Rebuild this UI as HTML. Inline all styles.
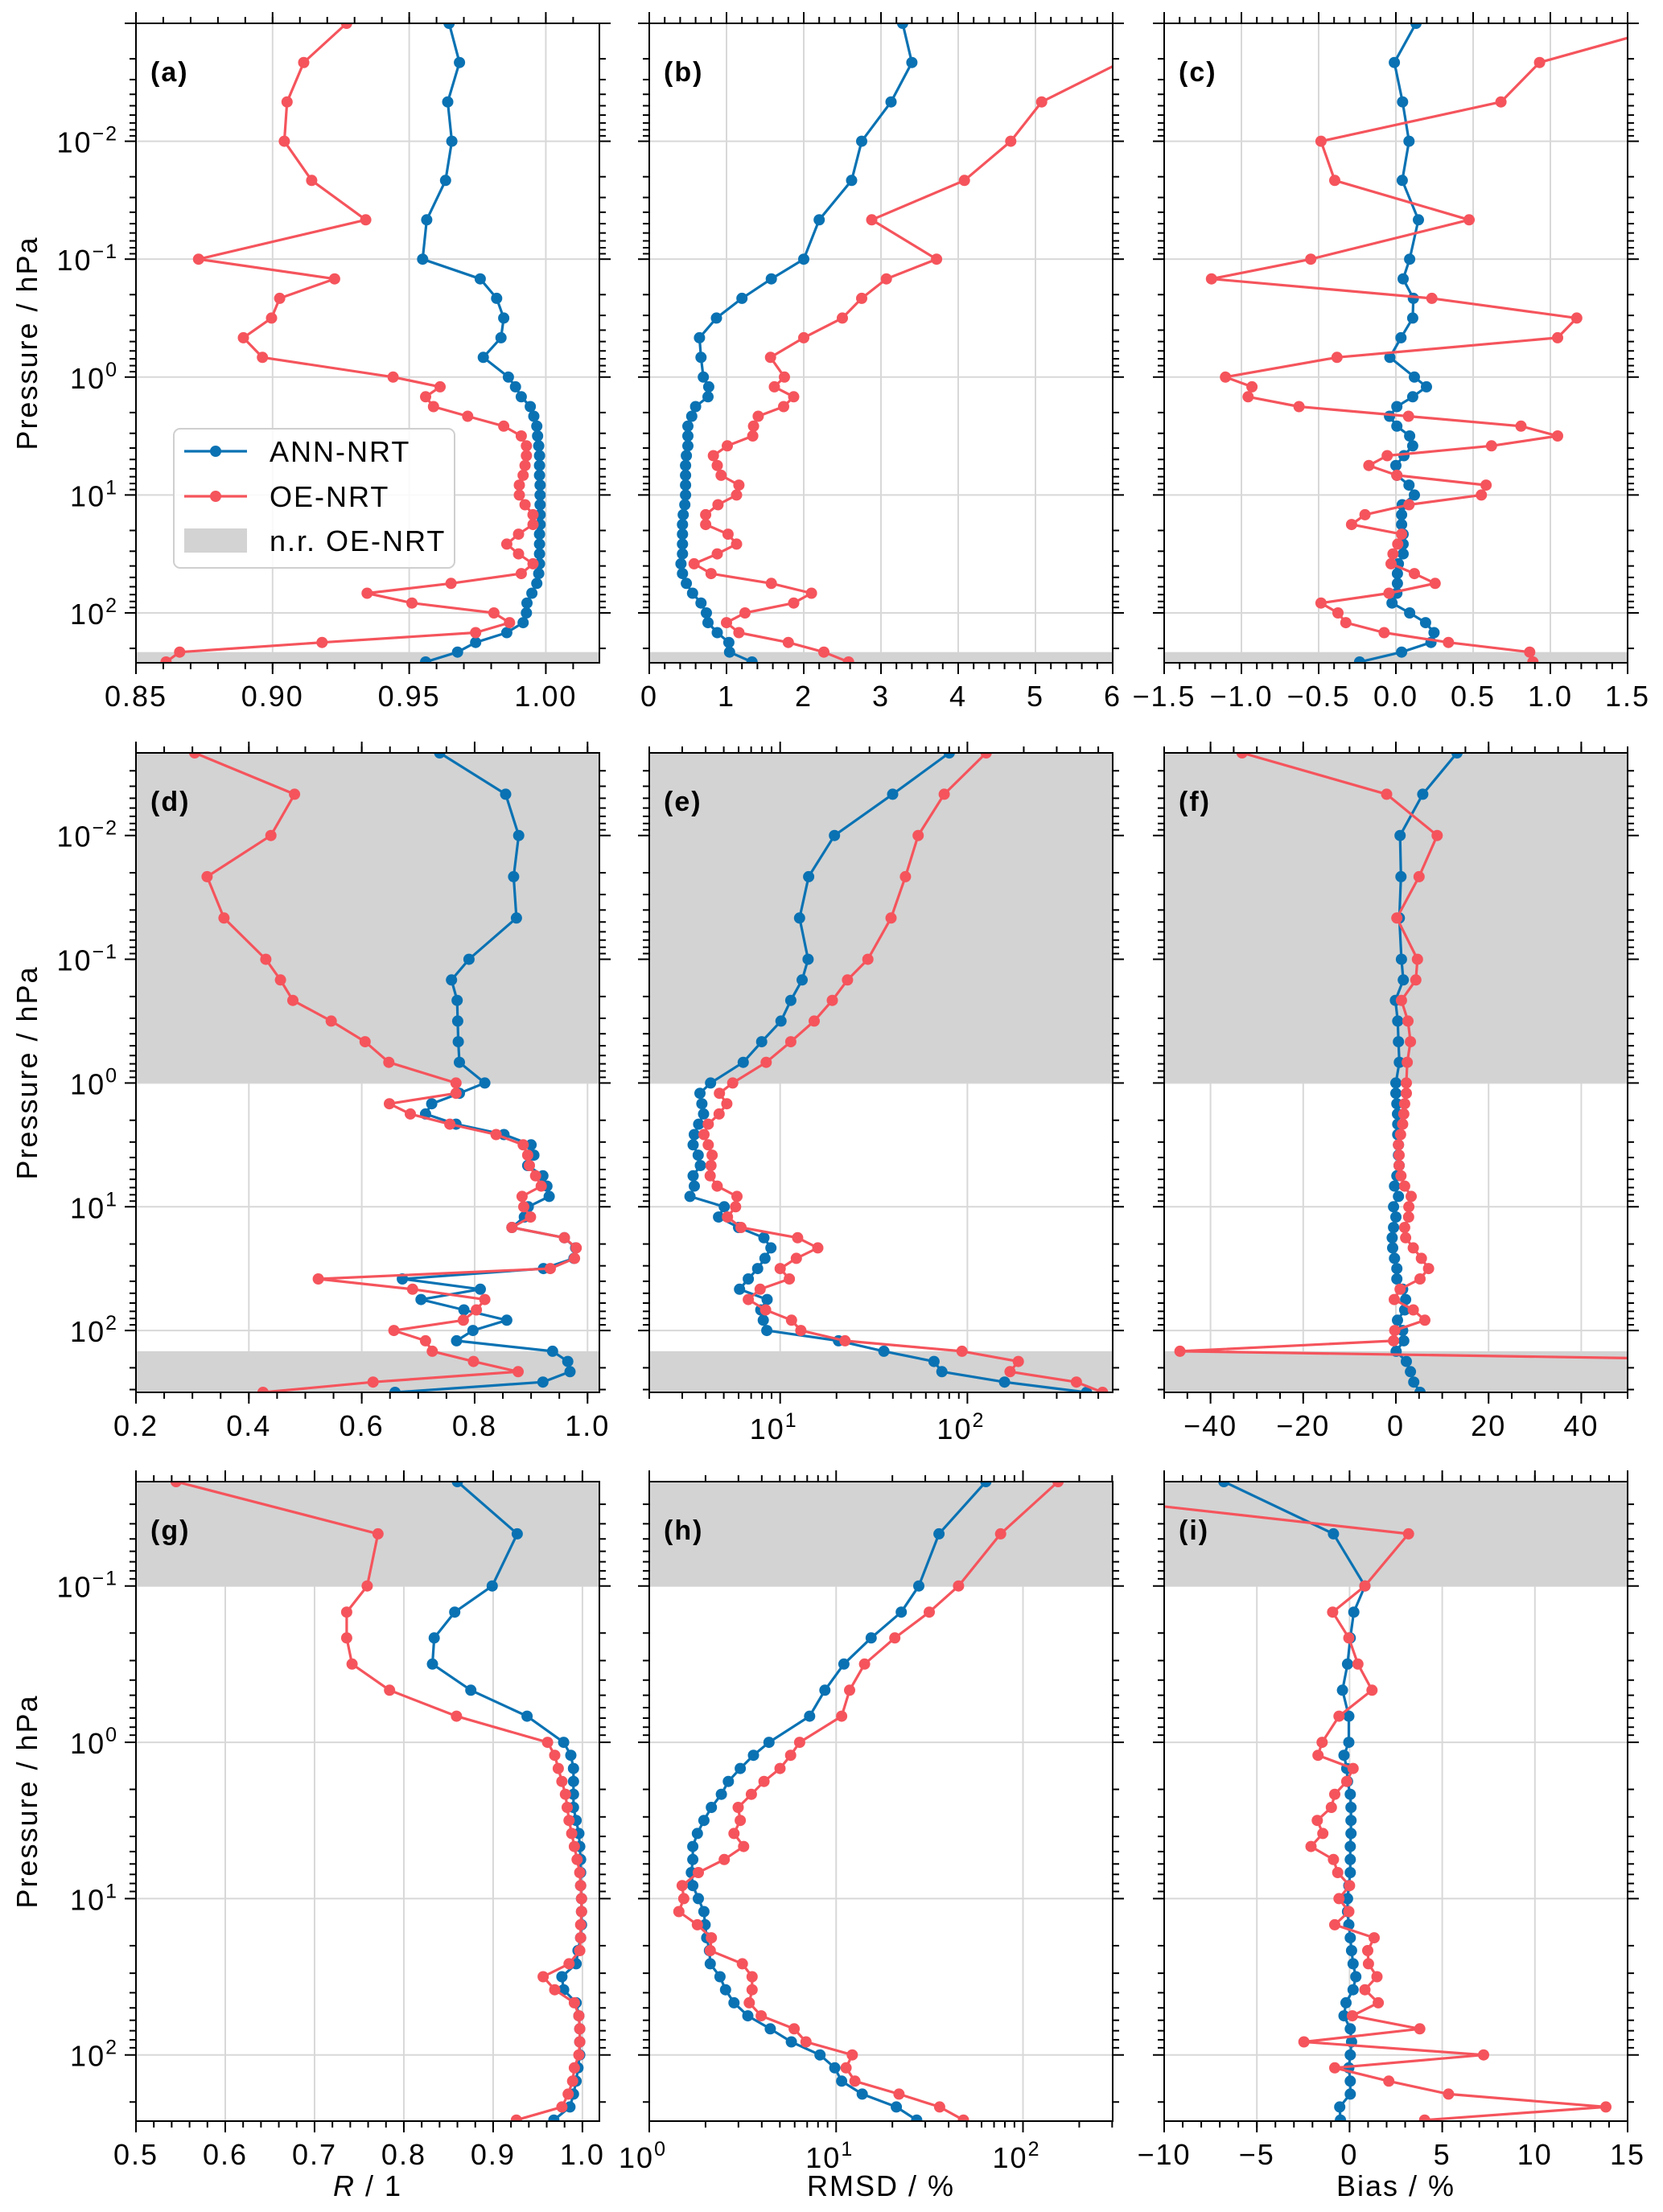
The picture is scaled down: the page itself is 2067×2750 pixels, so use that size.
<!DOCTYPE html>
<html><head><meta charset="utf-8"><title>Profiles</title>
<style>html,body{margin:0;padding:0;background:#fff}svg{display:block;font-family:"Liberation Sans",Arial,sans-serif}svg text{letter-spacing:2px}</style>
</head><body>
<svg id="fig" width="2067" height="2750" viewBox="0 0 2067 2750" xmlns="http://www.w3.org/2000/svg"></svg>
<script>
// ---- pressure levels (hPa) ----
const presR1 = [0.001,0.00215,0.00464,0.01,0.0215,0.0464,0.1,0.147,0.215,0.316,0.464,0.681,1,1.21,1.47,1.78,2.15,2.61,3.16,3.83,4.64,5.62,6.81,8.25,10,12.1,14.7,17.8,21.5,26.1,31.6,38.3,46.4,56.2,68.1,82.5,100,121,147,178,215,261];
const presR2 = [0.00215,0.00464,0.01,0.0215,0.0464,0.1,0.147,0.215,0.316,0.464,0.681,1,1.21,1.47,1.78,2.15,2.61,3.16,3.83,4.64,5.62,6.81,8.25,10,12.1,14.7,17.8,21.5,26.1,31.6,38.3,46.4,56.2,68.1,82.5,100,121,147,178,215,261,316];
const presR3 = [0.0215,0.0464,0.1,0.147,0.215,0.316,0.464,0.681,1,1.21,1.47,1.78,2.15,2.61,3.16,3.83,4.64,5.62,6.81,8.25,10,12.1,14.7,17.8,21.5,26.1,31.6,38.3,46.4,56.2,68.1,82.5,100,121,147,178,215,261];
// ---- series ----
const annA = [0.9646,0.9684,0.9641,0.9656,0.9633,0.9564,0.9549,0.976,0.982,0.9846,0.9836,0.9771,0.9863,0.9889,0.991,0.9943,0.9956,0.9967,0.997,0.9974,0.9977,0.9977,0.9977,0.9979,0.9979,0.9979,0.9979,0.9979,0.9977,0.9977,0.9977,0.9977,0.9974,0.9967,0.9949,0.9931,0.9929,0.9917,0.9857,0.9743,0.9677,0.956];
const oeA = [0.9271,0.9114,0.9053,0.9043,0.9143,0.9341,0.8729,0.9227,0.9026,0.8996,0.8893,0.8963,0.9441,0.9613,0.956,0.9589,0.9714,0.9846,0.991,0.9929,0.9929,0.9924,0.9917,0.9903,0.9903,0.9924,0.9953,0.9953,0.99,0.9857,0.99,0.9953,0.991,0.9653,0.9346,0.951,0.981,0.9867,0.9743,0.9181,0.866,0.861];
const annB = [3.28,3.4,3.13,2.75,2.62,2.2,2.0,1.58,1.2,0.87,0.65,0.67,0.70,0.77,0.76,0.6,0.55,0.5,0.5,0.5,0.48,0.47,0.47,0.47,0.47,0.46,0.44,0.43,0.43,0.43,0.43,0.41,0.43,0.48,0.56,0.67,0.74,0.76,0.88,1.03,1.04,1.33];
const oeB = [7.5,6.1,5.08,4.68,4.08,2.88,3.72,3.07,2.75,2.5,2.0,1.57,1.75,1.62,1.87,1.74,1.41,1.35,1.34,1.01,0.83,0.88,0.93,1.16,1.13,0.89,0.73,0.73,1.02,1.13,0.88,0.58,0.8,1.58,2.1,1.87,1.24,1.0,1.16,1.8,2.26,2.58];
const annC = [0.13,-0.01,0.043,0.085,0.041,0.146,0.089,0.047,0.113,0.109,0.033,-0.039,0.12,0.198,0.109,0.006,-0.041,0.006,0.089,0.109,0.052,0.0,0.006,0.085,0.12,0.041,0.037,0.037,0.047,0.047,0.047,0.016,0.01,0.01,0.006,-0.025,0.089,0.192,0.247,0.227,0.037,-0.235];
const oeC = [1.84,0.93,0.68,-0.485,-0.396,0.474,-0.551,-1.194,0.233,1.171,1.047,-0.381,-1.103,-0.932,-0.957,-0.627,0.082,0.81,1.047,0.619,-0.056,-0.175,0.006,0.584,0.553,0.085,-0.2,-0.287,0.037,0.012,-0.019,-0.031,0.12,0.254,-0.045,-0.485,-0.375,-0.324,-0.076,0.34,0.866,0.887];
const annD = [0.738,0.855,0.878,0.869,0.874,0.79,0.759,0.769,0.77,0.771,0.773,0.818,0.773,0.724,0.713,0.767,0.852,0.9,0.905,0.894,0.921,0.928,0.932,0.895,0.888,0.866,0.959,0.979,0.976,0.922,0.672,0.81,0.705,0.781,0.857,0.797,0.768,0.938,0.965,0.969,0.921,0.659];
const oeD = [0.304,0.481,0.439,0.326,0.356,0.43,0.456,0.478,0.546,0.606,0.648,0.767,0.767,0.649,0.686,0.756,0.838,0.886,0.894,0.897,0.908,0.918,0.884,0.887,0.899,0.866,0.959,0.98,0.977,0.934,0.523,0.69,0.818,0.803,0.78,0.657,0.713,0.725,0.798,0.877,0.62,0.425];
const annE = [80,39.9,19.5,14.2,12.7,14.1,13.1,11.4,10.1,7.97,6.35,4.25,3.73,3.82,3.9,3.67,3.48,3.43,3.65,3.75,3.43,3.48,3.3,5.03,4.69,6.0,8.19,8.93,8.3,7.58,6.76,6.07,8.52,7.88,8.13,8.49,20.5,35.8,66.3,73.1,158,433];
const oeE = [126,75.2,54.6,46.7,39.1,29.4,22.9,19,15.2,11.4,8.42,5.58,4.74,5.19,4.72,4.13,3.92,4.13,4.33,4.27,4.23,4.61,5.88,5.78,5.23,6.18,12.4,15.9,12.2,10.0,11.2,7.82,6.76,8.36,11.5,12.9,22.2,93.6,187,169,382,527];
const annF = [13.2,5.8,0.9,1.1,0.75,1.2,1.6,-0.1,0.4,0.55,0.75,0,0,0.2,0.35,0.4,0.4,0.55,0.55,0.7,0.2,-0.3,0.55,-0.5,0,-0.5,-0.8,-0.7,-0.3,0.2,0.2,1.45,2.1,1.9,0.35,1.45,1.7,0.05,2.25,3.15,3.85,5.2];
const oeF = [-33.2,-2.0,8.9,5.0,0.2,4.65,4.3,1.2,2.6,3.15,2.45,2.25,2.25,1.9,1.7,1.45,1.0,0.55,0.7,0.7,1.1,1.9,3.3,2.8,2.75,1.9,2.1,3.75,5.5,7.05,5.2,0.9,-0.35,3.75,6.25,-0.25,-0.5,-46.6,98,90,80,70];
const annG = [0.86,0.927,0.899,0.857,0.834,0.832,0.875,0.938,0.979,0.987,0.99,0.99,0.99,0.99,0.993,0.996,0.997,0.998,0.998,0.998,0.999,0.999,0.999,0.998,0.995,0.993,0.977,0.979,0.993,0.996,0.997,0.997,0.997,0.995,0.993,0.99,0.986,0.968];
const oeG = [0.545,0.771,0.759,0.736,0.736,0.742,0.784,0.859,0.961,0.969,0.973,0.977,0.981,0.983,0.985,0.988,0.991,0.994,0.997,0.998,0.999,0.999,0.998,0.998,0.997,0.985,0.956,0.969,0.991,0.996,0.997,0.997,0.996,0.991,0.989,0.984,0.977,0.926];
const annH = [63.3,35.5,27.7,22.3,15.4,11.0,8.71,7.21,4.37,3.61,3.07,2.65,2.43,2.15,1.96,1.81,1.71,1.71,1.68,1.71,1.83,1.96,1.99,2.03,2.1,2.12,2.39,2.56,2.84,3.37,4.44,5.76,8.2,9.84,10.7,13.8,21.0,27.0];
const oeH = [154,75.9,45.2,31.5,20.6,14.2,11.8,10.7,6.38,5.71,5.01,4.11,3.52,2.99,3.07,2.84,3.2,2.52,1.83,1.5,1.53,1.44,1.81,2.15,2.12,3.15,3.55,3.55,3.43,3.97,5.96,6.9,12.2,11.3,12.6,21.7,35.8,48.0];
const annI = [-6.78,-0.87,0.83,0.23,0.04,-0.11,-0.38,-0.04,-0.04,-0.3,-0.15,-0.11,0.04,0.08,0.08,0.08,0.04,0.04,0.04,-0.04,-0.11,-0.11,-0.04,0.04,0.11,0.19,0.34,0.19,-0.19,-0.3,0.04,0.11,0.04,-0.04,0.04,0.04,-0.53,-0.49];
const oeI = [-22,3.18,0.83,-0.91,-0.04,0.45,1.21,-0.57,-1.48,-1.7,0.19,-0.15,-0.8,-0.98,-1.74,-1.44,-2.08,-0.87,-0.64,0,-0.57,-0.04,-0.8,1.33,0.98,1.02,1.48,0.83,1.55,0.15,3.79,-2.46,7.23,-0.8,2.12,5.34,13.83,4.05];
// ---- tick labels ----
const ticksA = [0.85,0.90,0.95,1.00];
const ticksB = [0,1,2,3,4,5,6];
const ticksC = [-1.5,-1.0,-0.5,0.0,0.5,1.0,1.5];
const ticksD = [0.2,0.4,0.6,0.8,1.0];
const ticksE = [10,100];
const ticksF = [-40,-20,0,20,40];
const ticksG = [0.5,0.6,0.7,0.8,0.9,1.0];
const ticksH = [1,10,100];
const ticksI = [-10,-5,0,5,10,15];
const yTicksR1 = [0.01,0.1,1,10,100];
const yTicksR2 = [0.01,0.1,1,10,100];
const yTicksR3 = [0.1,1,10,100];

const NS = 'http://www.w3.org/2000/svg';
const svg = document.getElementById('fig');
const BLUE = '#0a72b3', RED = '#f5545c', GRID = '#d8d8d8', BAND = '#d3d3d3';
function mk(tag, attrs, parent){
  const e = document.createElementNS(NS, tag);
  for (const k in attrs) e.setAttribute(k, attrs[k]);
  (parent || svg).appendChild(e);
  return e;
}
const L10 = Math.log10;
function fmtDec(v, d){ const s = v.toFixed(d); return s.replace('-', '\u2212'); }
function supLabel(parent, x, y, anchor, exp, size){
  const t = mk('text', {x:x, y:y, 'text-anchor':anchor, 'font-size':size, fill:'#000'}, parent);
  t.appendChild(document.createTextNode('10'));
  const ts = mk('tspan', {dy:-15, 'font-size':Math.round(size*0.7)}, t);
  ts.textContent = String(exp).replace('-', '\u2212');
  return t;
}
const cols = [169, 807, 1447], rows = [29, 936, 1842], W = 576, H = 795;
let clipN = 0;

function panel(c){
  const x0 = cols[c.col], y0 = rows[c.row];
  const g = mk('g', {});
  
  
  const lp0 = L10(c.pmin), lp1 = L10(c.pmax);
  const Y = p => y0 + H * (L10(p) - lp0) / (lp1 - lp0);
  const X = c.xlog ? (v => x0 + W * (L10(v) - L10(c.xmin)) / (L10(c.xmax) - L10(c.xmin)))
                   : (v => x0 + W * (v - c.xmin) / (c.xmax - c.xmin));
  const grid = mk('g', {stroke:GRID, 'stroke-width':2}, g);
  
  
  c.ticks.forEach(v => { const x = X(v); if (x > x0 + 1 && x < x0 + W - 1) mk('line', {x1:x, x2:x, y1:y0, y2:y0 + H}, grid); });
  c.yt.forEach(p => { const y = Y(p); if (y > y0 + 1 && y < y0 + H - 1) mk('line', {x1:x0, x2:x0 + W, y1:y, y2:y}, grid); });
  c.bands.forEach(b => {
    const ya = Math.max(y0, Y(b[0])), yb = Math.min(y0 + H, Y(b[1]));
    const r = mk('rect', {x:x0, y:ya, width:W, height:yb - ya, fill:BAND}, g);
    
    
  });
  const cid = 'clip' + (clipN++);
  const cp = mk('clipPath', {id:cid}, g);
  mk('rect', {x:x0, y:y0, width:W, height:H}, cp);
  const plot = mk('g', {'clip-path':'url(#' + cid + ')'}, g);
  [[c.ann, BLUE, 'ann-nrt'], [c.oe, RED, 'oe-nrt']].forEach(([vals, col, nm]) => {
    const pts = vals.map((v, i) => [X(v), Y(c.pres[i])]);
    const pl = mk('polyline', {points:pts.map(p => p[0].toFixed(1) + ',' + p[1].toFixed(1)).join(' '), fill:'none', stroke:col, 'stroke-width':3.2, 'stroke-linejoin':'round'}, plot);
    
    
    pts.forEach(p => {
      const d = mk('circle', {cx:p[0].toFixed(1), cy:p[1].toFixed(1), r:7, fill:col}, plot);
      
      
    });
  });
  const tk = mk('g', {stroke:'#000', 'stroke-width':2}, g);
  
  
  c.minor.forEach(v => { const x = X(v); if (x >= x0 - 0.5 && x <= x0 + W + 0.5) { mk('line', {x1:x, x2:x, y1:y0, y2:y0 - 8}, tk); mk('line', {x1:x, x2:x, y1:y0 + H, y2:y0 + H + 8}, tk); } });
  c.ticks.forEach(v => { const x = X(v); mk('line', {x1:x, x2:x, y1:y0, y2:y0 - 14}, tk); mk('line', {x1:x, x2:x, y1:y0 + H, y2:y0 + H + 14}, tk); });
  for (let e = -4; e <= 3; e++) for (let m = 1; m <= 9; m++) {
    const p = m * Math.pow(10, e); const y = Y(p);
    if (y < y0 - 0.5 || y > y0 + H + 0.5) continue;
    const len = m === 1 ? 14 : 8;
    mk('line', {x1:x0, x2:x0 - len, y1:y, y2:y}, tk);
    mk('line', {x1:x0 + W, x2:x0 + W + len, y1:y, y2:y}, tk);
  }
  const fr = mk('rect', {x:x0, y:y0, width:W, height:H, fill:'none', stroke:'#000', 'stroke-width':2}, g);
  
  
  const xl = mk('g', {}, g);
  
  
  c.ticks.forEach(v => {
    const x = X(v);
    if (c.xlog) { supLabel(xl, x - 8, y0 + H + 58, 'middle', Math.round(L10(v)), 36); }
    else { const t = mk('text', {x:x, y:y0 + H + 54, 'text-anchor':'middle', 'font-size':36}, xl); t.textContent = fmtDec(v, c.dec); }
  });
  if (c.col === 0) {
    const yl = mk('g', {}, g);
    
    
    c.yt.forEach(p => { supLabel(yl, x0 - 22, Y(p) + 14, 'end', Math.round(L10(p)), 36); });
    const yt = mk('text', {x:0, y:0, 'text-anchor':'middle', 'font-size':36, transform:'translate(46,' + (y0 + H / 2) + ') rotate(-90)'}, g);
    yt.textContent = 'Pressure / hPa';
    
    
  }
  const pl = mk('text', {x:x0 + 18, y:y0 + 72, 'font-size':34, 'font-weight':'bold'}, g);
  pl.textContent = '(' + c.letter + ')';
  
  
  if (c.xtitle) {
    const xt = mk('text', {x:x0 + W / 2, y:2730, 'text-anchor':'middle', 'font-size':36}, g);
    if (c.xtitle === 'R') {
      const a = mk('tspan', {'font-style':'italic'}, xt); a.textContent = 'R';
      const b = mk('tspan', {}, xt); b.textContent = ' / 1';
    } else xt.textContent = c.xtitle;
    
    
  }
}
function rng(a, b, s){ const r = []; for (let v = a; v <= b + 1e-9; v += s) r.push(+v.toFixed(6)); return r; }
function logMinor(a, b){ const r = []; for (let e = -1; e <= 3; e++) for (let m = 2; m <= 9; m++) { const v = m * Math.pow(10, e); if (v >= a && v <= b) r.push(v); } return r; }

const R1 = {pmin:0.001, pmax:265}, R2 = {pmin:0.00215, pmax:316}, R3 = {pmin:0.0215, pmax:265};
panel(Object.assign({letter:'a', col:0, row:0, xmin:0.85, xmax:1.0196, ann:annA, oe:oeA, pres:presR1, ticks:ticksA, dec:2, minor:rng(0.85, 1.02, 0.01), yt:yTicksR1, bands:[[215, 1000]]}, R1));
panel(Object.assign({letter:'b', col:1, row:0, xmin:0, xmax:6, ann:annB, oe:oeB, pres:presR1, ticks:ticksB, dec:0, minor:rng(0, 6, 0.2), yt:yTicksR1, bands:[[215, 1000]]}, R1));
panel(Object.assign({letter:'c', col:2, row:0, xmin:-1.5, xmax:1.5, ann:annC, oe:oeC, pres:presR1, ticks:ticksC, dec:1, minor:rng(-1.5, 1.5, 0.1), yt:yTicksR1, bands:[[215, 1000]]}, R1));
panel(Object.assign({letter:'d', col:0, row:1, xmin:0.2, xmax:1.021, ann:annD, oe:oeD, pres:presR2, ticks:ticksD, dec:1, minor:rng(0.2, 1.0, 0.05), yt:yTicksR2, bands:[[0.0001, 1], [147, 1000]]}, R2));
panel(Object.assign({letter:'e', col:1, row:1, xmin:2, xmax:597, xlog:true, ann:annE, oe:oeE, pres:presR2, ticks:ticksE, minor:logMinor(2, 597), yt:yTicksR2, bands:[[0.0001, 1], [147, 1000]]}, R2));
panel(Object.assign({letter:'f', col:2, row:1, xmin:-50, xmax:50, ann:annF, oe:oeF, pres:presR2, ticks:ticksF, dec:0, minor:rng(-50, 50, 5), yt:yTicksR2, bands:[[0.0001, 1], [147, 1000]]}, R2));
panel(Object.assign({letter:'g', col:0, row:2, xmin:0.5, xmax:1.019, ann:annG, oe:oeG, pres:presR3, ticks:ticksG, dec:1, minor:rng(0.5, 1.02, 0.02), yt:yTicksR3, bands:[[0.0001, 0.1]], xtitle:'R'}, R3));
panel(Object.assign({letter:'h', col:1, row:2, xmin:1, xmax:302, xlog:true, ann:annH, oe:oeH, pres:presR3, ticks:ticksH, minor:logMinor(1, 302), yt:yTicksR3, bands:[[0.0001, 0.1]], xtitle:'RMSD / %'}, R3));
panel(Object.assign({letter:'i', col:2, row:2, xmin:-10, xmax:15, ann:annI, oe:oeI, pres:presR3, ticks:ticksI, dec:0, minor:rng(-10, 15, 1), yt:yTicksR3, bands:[[0.0001, 0.1]], xtitle:'Bias / %'}, R3));

const lg = mk('g', {});


const lbox = mk('rect', {x:216, y:533, width:349, height:173, rx:8, fill:'#fff', 'fill-opacity':0.85, stroke:'#cfcfcf', 'stroke-width':2}, lg);


[[BLUE, 'ANN-NRT', 561], [RED, 'OE-NRT', 617]].forEach(([col, lab, y]) => {
  const e = mk('g', {}, lg);
  
  
  mk('line', {x1:229, x2:307, y1:y, y2:y, stroke:col, 'stroke-width':3.2}, e);
  mk('circle', {cx:268, cy:y, r:7, fill:col}, e);
  const t = mk('text', {x:335, y:y + 13, 'font-size':36}, e);
  t.textContent = lab;
});
const e3 = mk('g', {}, lg);


mk('rect', {x:229, y:657, width:78, height:30, fill:BAND}, e3);
const t3 = mk('text', {x:335, y:685, 'font-size':36}, e3);
t3.textContent = 'n.r. OE-NRT';
</script>
</body></html>
